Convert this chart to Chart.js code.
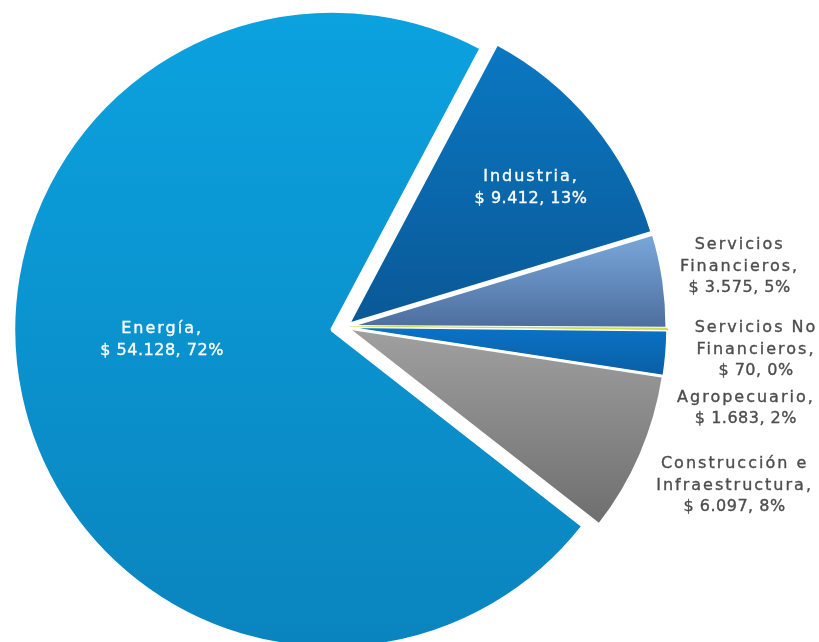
<!DOCTYPE html>
<html>
<head>
<meta charset="utf-8">
<script src="https://cdn.jsdelivr.net/npm/chart.js@4"></script>
<style>
  html, body { margin: 0; padding: 0; background: #fff; overflow: hidden; }
  #wrap { width: 819px; height: 654px; position: relative; }
</style>
</head>
<body>
<div id="wrap"><canvas id="pie"></canvas></div>
<script>
// data
var categories = ['Energía', 'Industria', 'Servicios Financieros', 'Servicios No Financieros', 'Agropecuario', 'Construcción e Infraestructura'];
var amounts = [54128, 9412, 3575, 70, 1683, 6097];
// how each category name is broken over lines in the labels
var labelLines = [
    ['Energía,'],
    ['Industria,'],
    ['Servicios', 'Financieros,'],
    ['Servicios No', 'Financieros,'],
    ['Agropecuario,'],
    ['Construcción e', 'Infraestructura,']
];

// style
var topColors = ['#0ba2df', '#0a78c2', '#7aa8dc', '#c9dc50', '#0b72c6', '#a0a0a0'];
var bottomColors = ['#0a84be', '#0a5896', '#4c6d9c', '#c9dc50', '#0a5ea4', '#6e6e6e'];
var sliceBorder = [4, 4, 3, 2, 1.5, 2.5];
var sliceBorderColor = ['#fff', '#fff', '#fff', '#c9dc50', '#fff', '#fff'];
// how far each slice is pulled out from the centre, px
var explode = [13, 3, 3, 3, 3, 3];
var labelInside = [true, true, false, false, false, false];
var labelRadius = [0.6, 0.75, 1, 1, 1, 1];
var labelNudge = [[17, -30], [-1, 15], [76, -14], [89, 20], [80, 55], [94, 31]];

var total = amounts.reduce(function (a, b) { return a + b; }, 0);

function money(v) {
    return '$ ' + String(v).replace(/\B(?=(\d{3})+(?!\d))/g, '.');
}

// pull slices out along their middle angle (done once per update)
var explodePlugin = {
    id: 'explodeSlices',
    afterDatasetsUpdate: function (chart) {
        var meta = chart.getDatasetMeta(0);
        meta.data.forEach(function (arc, i) {
            var mid = (arc.startAngle + arc.endAngle) / 2;
            arc.x += Math.cos(mid) * explode[i];
            arc.y += Math.sin(mid) * explode[i];
        });
    }
};

// vertical gradient per slice, fitted to the slice's own extent
var gradientPlugin = {
    id: 'sliceGradient',
    beforeDatasetsDraw: function (chart) {
        var ctx = chart.ctx;
        var meta = chart.getDatasetMeta(0);
        meta.data.forEach(function (arc, i) {
            var p = arc.getProps(['x', 'y', 'startAngle', 'endAngle', 'outerRadius']);
            var y0 = p.y, y1 = p.y;
            for (var k = 0; k <= 40; k++) {
                var a = p.startAngle + (p.endAngle - p.startAngle) * k / 40;
                var y = p.y + Math.sin(a) * p.outerRadius;
                y0 = Math.min(y0, y);
                y1 = Math.max(y1, y);
            }
            var g = ctx.createLinearGradient(0, y0, 0, y1 + 1);
            g.addColorStop(0, topColors[i]);
            g.addColorStop(1, bottomColors[i]);
            arc.options = Object.assign({}, arc.options, { backgroundColor: g });
        });
    }
};

var labelPlugin = {
    id: 'sliceLabels',
    afterDatasetsDraw: function (chart) {
        var ctx = chart.ctx;
        var meta = chart.getDatasetMeta(0);
        ctx.save();
        ctx.font = '16px "DejaVu Sans"';
        ctx.textAlign = 'center';
        ctx.textBaseline = 'middle';
        ctx.lineWidth = 0.35;
        meta.data.forEach(function (arc, i) {
            var p = arc.getProps(['x', 'y', 'startAngle', 'endAngle', 'outerRadius']);
            var mid = (p.startAngle + p.endAngle) / 2;
            var r = p.outerRadius * labelRadius[i];
            var cx = p.x + Math.cos(mid) * r + labelNudge[i][0];
            var cy = p.y + Math.sin(mid) * r + labelNudge[i][1];
            var pct = Math.round(amounts[i] / total * 100);
            var lines = labelLines[i].concat([money(amounts[i]) + ', ' + pct + '%']);
            var lh = 21.5;
            var col = labelInside[i] ? '#ffffff' : '#4d4d4d';
            ctx.fillStyle = col;
            ctx.strokeStyle = col;
            lines.forEach(function (t, j) {
                // names set wider than the figures, like the original typeface
                ctx.letterSpacing = j < lines.length - 1 ? '2px' : '0.5px';
                var ty = cy + (j - (lines.length - 1) / 2) * lh;
                ctx.fillText(t, cx, ty);
                ctx.strokeText(t, cx, ty);
            });
        });
        ctx.restore();
    }
};

new Chart(document.getElementById('pie'), {
    type: 'pie',
    data: {
        labels: categories,
        datasets: [{
            data: amounts,
            backgroundColor: topColors,
            borderColor: sliceBorderColor,
            borderWidth: sliceBorder
        }]
    },
    options: {
        responsive: true,
        maintainAspectRatio: false,
        animation: false,
        rotation: 128,
        radius: 319,
        layout: { padding: { left: 0, right: 129, top: 0, bottom: 0 } },
        plugins: {
            legend: { display: false },
            tooltip: { enabled: false }
        }
    },
    plugins: [explodePlugin, gradientPlugin, labelPlugin]
});
</script>
</body>
</html>
